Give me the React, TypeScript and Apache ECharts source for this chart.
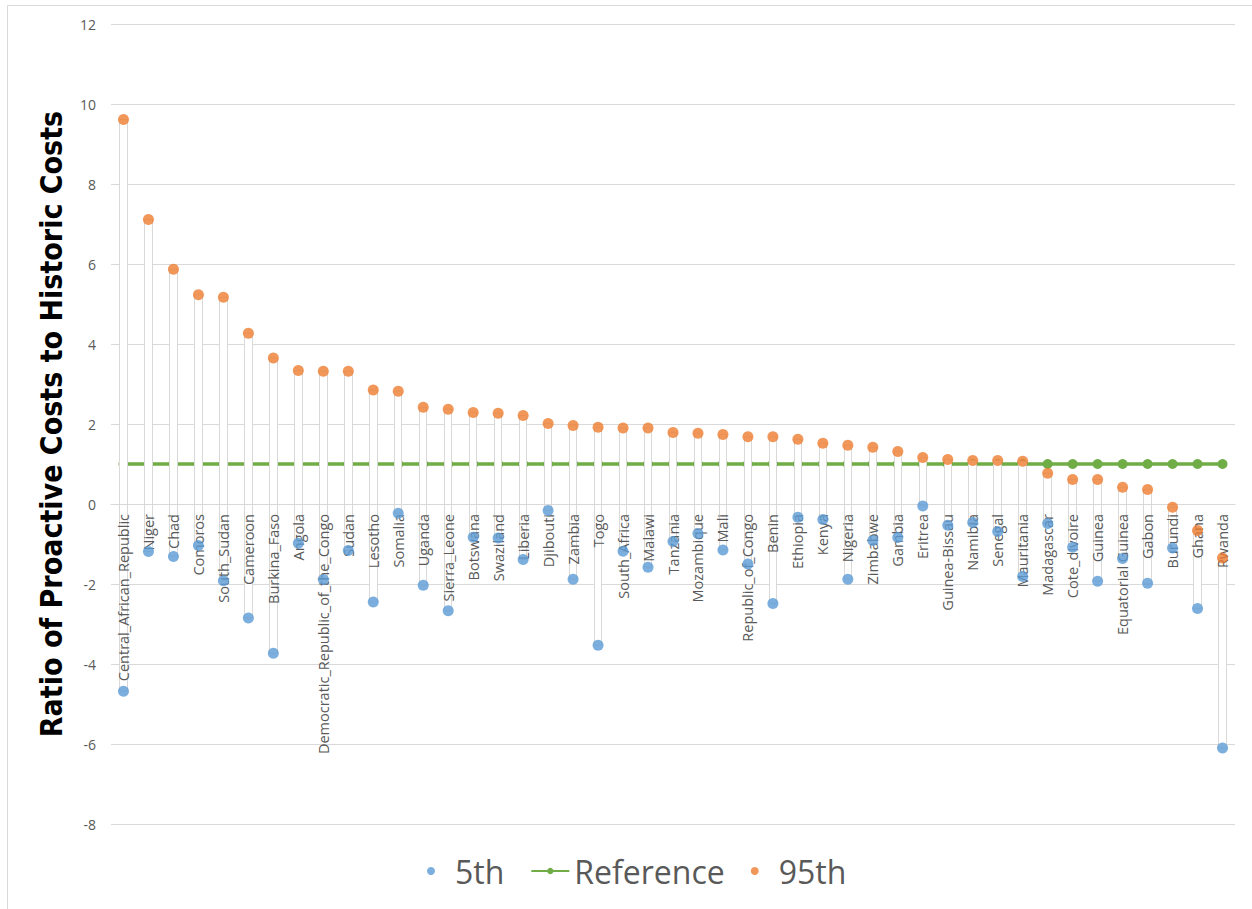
import React, { useEffect, useRef } from "react";
import * as echarts from "echarts";

const countries = [
  "Central_African_Republic", "Niger", "Chad", "Comoros", "South_Sudan", "Cameroon",
  "Burkina_Faso", "Angola", "Democratic_Republic_of_the_Congo", "Sudan", "Lesotho",
  "Somalia", "Uganda", "Sierra_Leone", "Botswana", "Swaziland", "Liberia", "Djibouti",
  "Zambia", "Togo", "South_Africa", "Malawi", "Tanzania", "Mozambique", "Mali",
  "Republic_of_Congo", "Benin", "Ethiopia", "Kenya", "Nigeria", "Zimbabwe", "Gambia",
  "Eritrea", "Guinea-Bissau", "Namibia", "Senegal", "Mauritania", "Madagascar",
  "Cote_dIvoire", "Guinea", "Equatorial Guinea", "Gabon", "Burundi", "Ghana", "Rwanda",
];

const p5 = [
  -4.68, -1.19, -1.31, -1.04, -1.92, -2.85, -3.73, -0.98, -1.89, -1.16, -2.45,
  -0.23, -2.03, -2.67, -0.83, -0.85, -1.39, -0.16, -1.88, -3.53, -1.18, -1.58,
  -0.94, -0.74, -1.15, -1.5, -2.49, -0.33, -0.39, -1.88, -0.91, -0.84, -0.05,
  -0.53, -0.46, -0.69, -1.81, -0.49, -1.08, -1.93, -1.36, -1.98, -1.1, -2.61, -6.1,
];

const p95 = [
  9.61, 7.11, 5.87, 5.23, 5.17, 4.27, 3.65, 3.34, 3.32, 3.32, 2.85,
  2.82, 2.42, 2.37, 2.29, 2.27, 2.21, 2.01, 1.96, 1.92, 1.9, 1.9,
  1.79, 1.77, 1.74, 1.68, 1.68, 1.62, 1.52, 1.47, 1.42, 1.31, 1.16,
  1.11, 1.09, 1.09, 1.07, 0.77, 0.61, 0.61, 0.42, 0.36, -0.08, -0.66, -1.35,
];

const reference = countries.map(() => 1);

const yTicks = { min: -8, max: 12, interval: 2 };

const BLUE = "#5B9BD5";
const ORANGE = "#ED7D31";
const GREEN = "#70AD47";
const GRID = "#D9D9D9";
const TEXT = "#595959";
const FONT = "'Open Sans', 'Noto Sans', sans-serif";

const GRID_TOP = 24;
const GRID_BOTTOM = 85;
const CHART_H = 909;

export default function App() {
  const ref = useRef<HTMLDivElement>(null);

  useEffect(() => {
    if (!ref.current) return;
    const chart = echarts.init(ref.current, null, { renderer: "svg" });
    const candles = countries.map((_, i) => [p5[i], p95[i], p5[i], p95[i]]);
    // distance (px) from the grid bottom (y = min) up to y = 0
    const plotH = CHART_H - GRID_TOP - GRID_BOTTOM;
    const zeroOffset = (-yTicks.min / (yTicks.max - yTicks.min)) * plotH;
    chart.setOption({
      animation: false,
      backgroundColor: "#ffffff",
      textStyle: { fontFamily: FONT },
      grid: {
        left: 111,
        right: 17,
        top: GRID_TOP,
        bottom: GRID_BOTTOM,
        containLabel: false,
        outerBoundsMode: "none",
      },
      graphic: [
        {
          type: "rect",
          shape: { x: 7.5, y: 5.5, width: 1400, height: 1100 },
          style: { fill: "none", stroke: GRID, lineWidth: 1 },
          silent: true,
          z: -10,
        },
      ],
      legend: {
        data: ["5th", "Reference", "95th"],
        left: 422,
        top: 850,
        itemWidth: 38,
        itemHeight: 8,
        itemGap: 26,
        textStyle: { fontSize: 32, color: TEXT, fontFamily: FONT },
      },
      xAxis: {
        type: "category",
        data: countries,
        boundaryGap: true,
        position: "bottom",
        offset: -zeroOffset,
        z: 3,
        axisLine: { onZero: false, lineStyle: { color: GRID } },
        axisTick: { show: false },
        axisLabel: {
          interval: 0,
          rotate: 90,
          margin: 10,
          color: TEXT,
          fontSize: 14.5,
          fontFamily: FONT,
          hideOverlap: false,
        },
        splitLine: { show: false },
      },
      yAxis: {
        type: "value",
        min: yTicks.min,
        max: yTicks.max,
        interval: yTicks.interval,
        name: "Ratio of Proactive Costs to Historic Costs",
        nameLocation: "middle",
        nameRotate: 90,
        nameGap: 45,
        nameTextStyle: {
          fontSize: 30,
          fontWeight: "bold",
          color: "#000000",
          fontFamily: "'Liberation Sans Narrow', 'DejaVu Sans Condensed', 'Open Sans', sans-serif",
        },
        axisLine: { show: false },
        axisTick: { show: false },
        axisLabel: { color: TEXT, fontSize: 14, margin: 15, fontFamily: FONT },
        splitLine: { lineStyle: { color: GRID, width: 1 } },
      },
      series: [
        {
          name: "Reference",
          type: "line",
          data: reference,
          symbol: "circle",
          symbolSize: 10,
          color: GREEN,
          itemStyle: { color: GREEN },
          lineStyle: { color: GREEN, width: 3.5 },
          z: 1,
        },
        {
          name: "range",
          type: "candlestick",
          data: candles,
          barWidth: 8,
          itemStyle: {
            color: "#ffffff",
            color0: "#ffffff",
            borderColor: GRID,
            borderColor0: GRID,
            borderWidth: 1,
          },
          z: 2,
        },
        {
          name: "5th",
          type: "scatter",
          data: p5,
          symbol: "circle",
          symbolSize: 11,
          itemStyle: { color: BLUE },
          z: 4,
        },
        {
          name: "95th",
          type: "scatter",
          data: p95,
          symbol: "circle",
          symbolSize: 11,
          itemStyle: { color: ORANGE },
          z: 4,
        },
      ],
    });
    return () => chart.dispose();
  }, []);

  return (
    <div
      ref={ref}
      style={{ position: "fixed", left: 0, top: 0, width: 1252, height: 909 }}
    />
  );
}
